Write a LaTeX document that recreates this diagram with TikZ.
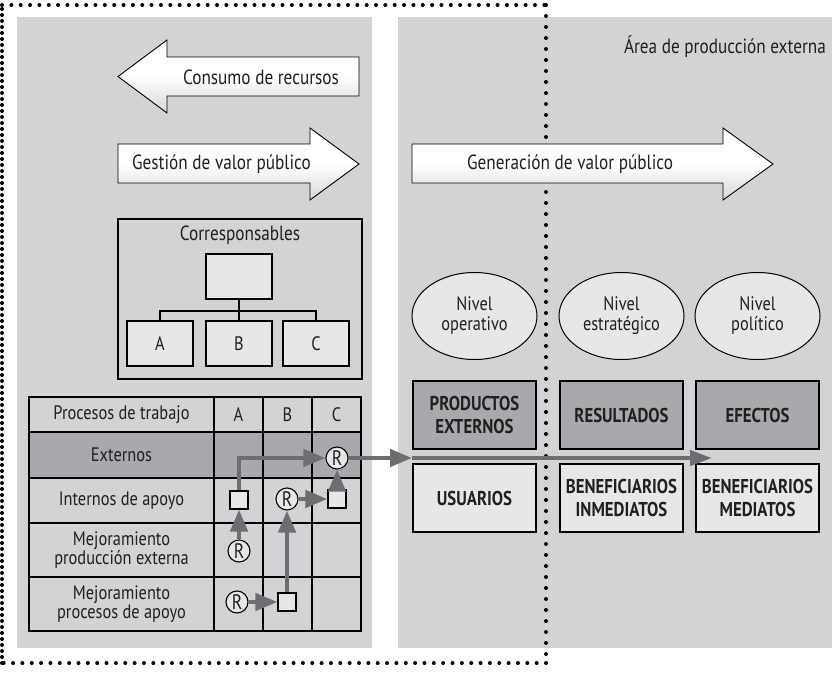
\documentclass[tikz,border=0pt]{standalone}
\usepackage{fontspec}
\setmainfont{PT Sans}[FakeStretch=0.84]
\usetikzlibrary{arrows.meta,shapes.geometric}
\definecolor{panel}{RGB}{209,211,212}
\definecolor{dark}{RGB}{167,169,172}
\definecolor{light}{RGB}{230,231,232}
\definecolor{arr}{RGB}{109,110,113}
\definecolor{shadeend}{RGB}{214,215,217}
\definecolor{txt}{RGB}{35,31,32}
\tikzset{
  bigarrow/.style={draw=black, line width=0.9pt, top color=white, bottom color=shadeend, middle color=white},
  arrtext/.style={font=\fontsize{20.5}{22}\selectfont, inner sep=0pt, text=txt},
  base/.style={font=\fontsize{19.5}{19}\selectfont, align=center, inner sep=0pt, text=txt},
  tabline/.style={draw=black, line width=1.1pt},
  obox/.style={draw=black, line width=1.1pt, fill=light, minimum width=66pt, minimum height=45pt, inner sep=0pt, font=\fontsize{19.5}{19}\selectfont, text=txt},
  nivel/.style={ellipse, draw=black, line width=1pt, fill=light, minimum width=125pt, minimum height=87pt, inner sep=0pt, align=center, font=\fontsize{19.5}{20}\selectfont, text=txt},
  topbox/.style={draw=black, line width=1.1pt, fill=dark, minimum width=123pt, minimum height=68pt, inner sep=0pt, align=center, font=\fontsize{20}{22.5}\selectfont\bfseries, text=txt},
  botbox/.style={topbox, fill=light},
  rnode/.style={circle, draw=black, line width=1.1pt, fill=light, minimum size=22pt, inner sep=0pt, font=\fontsize{21}{21}\selectfont, text=txt},
  sqnode/.style={draw=black, line width=1.1pt, fill=light, minimum size=18pt, inner sep=0pt},
  garrow/.style={draw=arr, line width=4.5pt, -{Triangle[length=22pt,width=17pt]}},
  dots/.style={line width=4pt, line cap=round, dash pattern=on 0pt off #1},
}
\begin{document}
\begin{tikzpicture}[x=1pt,y=-1pt]
\useasboundingbox (0,0) rectangle (833,675);
% panels
\fill[panel] (17,17) rectangle (372,648);
\fill[panel] (398,17) rectangle (832,648);
% dotted frame
\draw[dots=9.35pt] (2,5) -- (546,5);
\draw[dots=11pt] (546,5) -- (546,663);
\draw[dots=9.35pt] (546,663) -- (2,663);
\draw[dots=6pt] (2,663) -- (2,5);

\node[base, anchor=east, font=\fontsize{20.5}{22}\selectfont] (area) at (826,47) {Área de producción externa};

% big arrows
\path[bigarrow] (359,57) -- (167,57) -- (167,40) -- (118,76.5) -- (167,113) -- (167,96) -- (359,96) -- cycle;
\node[arrtext] (consumo) at (261,77) {Consumo de recursos};
\path[bigarrow] (118,144) -- (310,144) -- (310,128) -- (359,164) -- (310,200) -- (310,183) -- (118,183) -- cycle;
\node[arrtext, anchor=west] (gestion) at (132,164) {Gestión de valor público};
\path[bigarrow] (412,144) -- (723,144) -- (723,128) -- (773,164) -- (723,200) -- (723,183) -- (412,183) -- cycle;
\node[arrtext, anchor=west] (generacion) at (467,164) {Generación de valor público};

% Corresponsables
\draw[line width=1.1pt] (118,219) rectangle (362,379);
\node[base, font=\fontsize{20.5}{20}\selectfont] (corr) at (240,235) {Corresponsables};
\node[obox] (boss) at (239,276.5) {};
\node[obox] (ca) at (160,343.5) {A};
\node[obox] (cb) at (239,343.5) {B};
\node[obox] (cc) at (316,343.5) {C};
\draw[line width=1.1pt] (boss.south) -- (239,311);
\draw[line width=1.1pt] (ca.north) |- (cc.north |- 0,311) -- (cc.north);
\draw[line width=1.1pt] (239,311) -- (cb.north);

% table
\fill[dark] (29,432) rectangle (361,478);
\draw[tabline] (29,397) rectangle (361,631);
\foreach \yy in {432,478,523,577} \draw[tabline] (29,\yy) -- (361,\yy);
\foreach \xx in {214,263,312} \draw[tabline] (\xx,397) -- (\xx,631);
\node[base] (h0) at (121.5,414.5) {Procesos de trabajo};
\node[base] (hA) at (238.5,414.5) {A};
\node[base] (hB) at (287.5,414.5) {B};
\node[base] (hC) at (336.5,414.5) {C};
\node[base] (r1) at (121.5,455) {Externos};
\node[base] (r2) at (121.5,500.5) {Internos de apoyo};
\node[base] (r3) at (121.5,550) {Mejoramiento\\producción externa};
\node[base] (r4) at (121.5,604) {Mejoramiento\\procesos de apoyo};

% process markers
\node[sqnode] (sqA) at (239,500) {};
\node[rnode] (rA1) at (239,551) {R};
\node[rnode] (rB) at (287,499) {R};
\node[sqnode] (sqC) at (337,499) {};
\node[rnode] (rC) at (337,458) {R};
\node[rnode] (rA2) at (237,602) {R};
\node[sqnode] (sqB) at (287,602) {};
\coordinate (p0) at (412,458);
\coordinate (p1) at (712,458);

\draw[garrow] (sqA.north) |- (rC.west);
\draw[garrow] (rA1.north) -- (sqA.south);
\draw[garrow] (rA2.east) -- (sqB.west);
\draw[garrow] (sqB.north) -- (rB.south);
\draw[garrow] (rB.east) -- (sqC.west);
\draw[garrow] (sqC.north) -- (rC.south);
\draw[garrow] (rC.east) -- (p0);

% right side
\node[nivel] (n1) at (474.5,316) {Nivel\\operativo};
\node[nivel] (n2) at (621.5,316) {Nivel\\estratégico};
\node[nivel] (n3) at (757.5,316) {Nivel\\político};
\node[topbox] (t1) at (474.5,415) {PRODUCTOS\\EXTERNOS};
\node[topbox] (t2) at (621.5,415) {RESULTADOS};
\node[topbox] (t3) at (757.5,415) {EFECTOS};
\node[botbox] (b1) at (474.5,498) {USUARIOS};
\node[botbox] (b2) at (621.5,498) {BENEFICIARIOS\\INMEDIATOS};
\node[botbox] (b3) at (757.5,498) {BENEFICIARIOS\\MEDIATOS};
\draw[draw=arr, line width=4pt, -{Triangle[length=22pt,width=15pt]}] (p0) -- (p1);
\end{tikzpicture}
\end{document}
